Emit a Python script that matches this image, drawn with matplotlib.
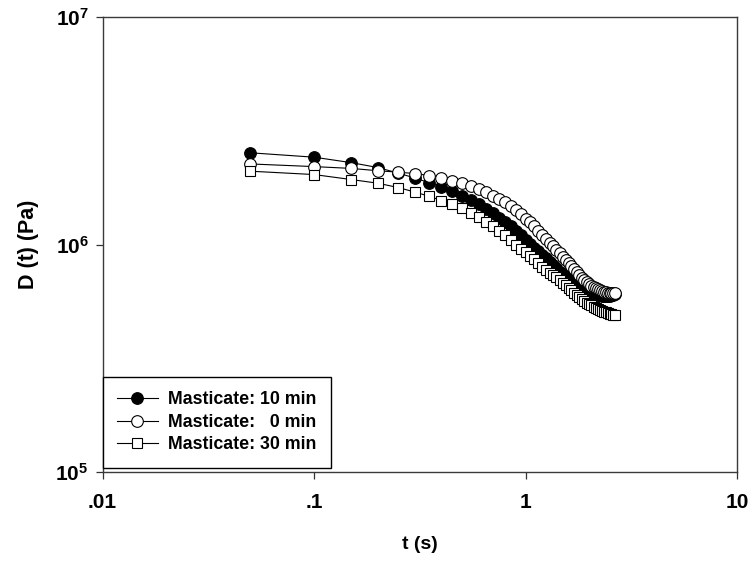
import matplotlib
matplotlib.use("Agg")
import matplotlib.pyplot as plt

plt.rcParams['font.family'] = ['Liberation Sans', 'DejaVu Sans']
plt.rcParams['font.weight'] = 'bold'
plt.rcParams['mathtext.fontset'] = 'custom'
plt.rcParams['mathtext.rm'] = 'Liberation Sans:bold'
plt.rcParams['mathtext.bf'] = 'Liberation Sans:bold'
plt.rcParams['mathtext.it'] = 'Liberation Sans:bold'

# time (s)
t = [0.05, 0.10, 0.15, 0.20, 0.25, 0.30, 0.35, 0.40, 0.45, 0.50,
     0.55, 0.60, 0.65, 0.70, 0.75, 0.80, 0.85, 0.90, 0.95, 1.00,
     1.05, 1.10, 1.15, 1.20, 1.25, 1.30, 1.35, 1.40, 1.45, 1.50,
     1.55, 1.60, 1.65, 1.70, 1.75, 1.80, 1.85, 1.90, 1.95, 2.00,
     2.05, 2.10, 2.15, 2.20, 2.25, 2.30, 2.35, 2.40, 2.45, 2.50,
     2.55, 2.60, 2.65]

# D(t) in units of 1e6 Pa
d_10min = [2.53, 2.42, 2.29, 2.18, 2.06, 1.96, 1.87, 1.79, 1.71, 1.64,
           1.57, 1.50, 1.43, 1.37, 1.31, 1.26, 1.20, 1.15, 1.10, 1.05,
           1.01, 0.97, 0.935, 0.90, 0.87, 0.84, 0.81, 0.785, 0.76, 0.74,
           0.72, 0.70, 0.685, 0.67, 0.66, 0.65, 0.64, 0.632, 0.625, 0.618,
           0.612, 0.607, 0.603, 0.600, 0.597, 0.595, 0.594, 0.594, 0.595, 0.596,
           0.598, 0.600, 0.603]

d_0min = [2.26, 2.20, 2.16, 2.11, 2.08, 2.05, 2.01, 1.96, 1.91, 1.86,
          1.81, 1.76, 1.70, 1.64, 1.59, 1.54, 1.48, 1.42, 1.36, 1.30,
          1.25, 1.20, 1.15, 1.10, 1.06, 1.02, 0.985, 0.95, 0.915, 0.88,
          0.855, 0.83, 0.805, 0.78, 0.755, 0.735, 0.715, 0.70, 0.685, 0.672,
          0.66, 0.65, 0.642, 0.635, 0.629, 0.624, 0.62, 0.617, 0.615, 0.613,
          0.612, 0.611, 0.612]

d_30min = [2.10, 2.03, 1.93, 1.86, 1.78, 1.70, 1.63, 1.56, 1.50, 1.44,
           1.38, 1.32, 1.26, 1.20, 1.15, 1.10, 1.05, 1.00, 0.96, 0.925,
           0.89, 0.86, 0.83, 0.80, 0.775, 0.75, 0.735, 0.72, 0.70, 0.68,
           0.662, 0.645, 0.63, 0.615, 0.601, 0.588, 0.576, 0.565, 0.555, 0.547,
           0.54, 0.533, 0.527, 0.521, 0.516, 0.511, 0.507, 0.503, 0.499, 0.496,
           0.493, 0.490, 0.488]

labels = ["Masticate: 10 min", "Masticate:   0 min", "Masticate: 30 min"]
x_ticks = [0.01, 0.1, 1, 10]
x_ticklabels = [".01", ".1", "1", "10"]
y_ticks = [1e5, 1e6, 1e7]
y_ticklabels = [r"$\mathbf{10^{5}}$", r"$\mathbf{10^{6}}$", r"$\mathbf{10^{7}}$"]

fig = plt.figure(figsize=(7.52, 5.61), dpi=100)
ax = fig.add_axes([102.5 / 752, 1 - 472 / 561, (737 - 102.5) / 752, (472 - 17) / 561])

scale = 1e6
ax.plot(t, [v * scale for v in d_10min], '-o', color='black', mfc='black', mec='black',
        ms=8.4, mew=0.8, lw=0.8, label=labels[0], zorder=3)
ax.plot(t, [v * scale for v in d_0min], '-o', color='black', mfc='white', mec='black',
        ms=8.4, mew=0.8, lw=0.8, label=labels[1], zorder=4)
ax.plot(t, [v * scale for v in d_30min], '-s', color='black', mfc='white', mec='black',
        ms=7.2, mew=0.8, lw=0.8, label=labels[2], zorder=5)

ax.set_xscale('log')
ax.set_yscale('log')
ax.set_xlim(0.01, 10)
ax.set_ylim(1e5, 1e7)
ax.set_xticks(x_ticks)
ax.set_xticklabels(x_ticklabels)
ax.set_yticks(y_ticks)
ax.set_yticklabels(y_ticklabels)
ax.minorticks_off()
ax.tick_params(axis='both', direction='out', length=5, width=0.9, color='#333333',
               labelsize=15, pad=5)
ax.tick_params(axis='x', pad=10)
for lab in ax.get_xticklabels() + ax.get_yticklabels():
    lab.set_fontweight('bold')
for s in ax.spines.values():
    s.set_linewidth(1.0)
    s.set_color('#3a3a3a')

ax.set_xlabel("t (s)", fontsize=14, fontweight='bold', labelpad=17.5)
ax.set_ylabel("D (t) (Pa)", fontsize=15.5, fontweight='bold', labelpad=12)

leg = ax.legend(loc='lower left', bbox_to_anchor=(0.0, 0.0095), borderaxespad=0,
                fancybox=False, edgecolor='black', framealpha=1,
                prop={'size': 12.8, 'weight': 'bold'}, handlelength=2.3,
                handletextpad=0.6, labelspacing=0.32, borderpad=0.8)
leg.get_frame().set_linewidth(1.0)

fig.savefig("out.png", dpi=100)
